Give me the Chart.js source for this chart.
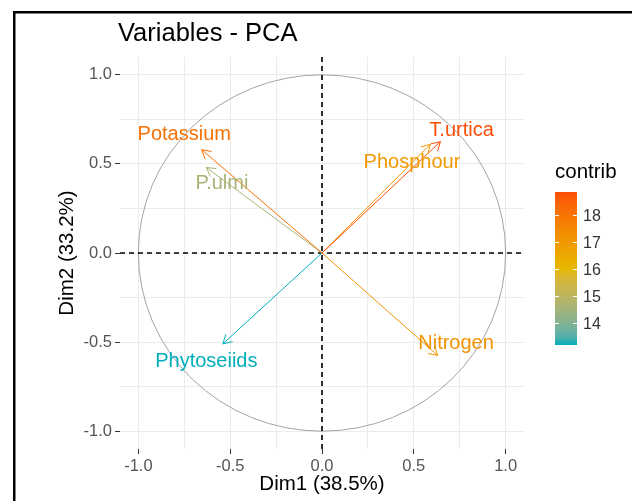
<!DOCTYPE html>
<html>
<head>
<meta charset="utf-8">
<script src="https://cdn.jsdelivr.net/npm/chart.js@4/dist/chart.umd.min.js"></script>
<style>
  body { margin: 0; background: #fff; }
  canvas { display: block; }
</style>
</head>
<body>
<canvas id="pca" width="632" height="501"></canvas>
<script>
// data
const variables = ['T.urtica', 'Phosphour', 'Potassium', 'P.ulmi', 'Phytoseiids', 'Nitrogen'];
const dim1 = [0.645, 0.59, -0.655, -0.63, -0.54, 0.63];
const dim2 = [0.625, 0.61, 0.58, 0.48, -0.51, -0.575];
const contrib = [18.85, 17.0, 18.1, 14.6, 13.19, 17.2];
// where the (repelled) labels sit, in Dim units
const labelX = [0.76, 0.49, -0.75, -0.545, -0.63, 0.73];
const labelY = [0.69, 0.51, 0.665, 0.39, -0.61, -0.51];

const axisTicks = [-1, -0.5, 0, 0.5, 1];
const gridVals = [-1, -0.75, -0.5, -0.25, 0, 0.25, 0.5, 0.75, 1];
const legendTicks = [14, 15, 16, 17, 18];
const gradientCols = ['#00AFBB', '#E7B800', '#FC4E07'];

const FONT = '"Liberation Sans", Arial, sans-serif';

// colour scale like ggplot (interpolated in Lab)
const hexToRgb = h => [1, 3, 5].map(i => parseInt(h.slice(i, i + 2), 16));
const toLin = c => { c /= 255; return c <= 0.04045 ? c / 12.92 : Math.pow((c + 0.055) / 1.055, 2.4); };
const fromLin = c => { c = c <= 0.0031308 ? 12.92 * c : 1.055 * Math.pow(c, 1 / 2.4) - 0.055; return Math.round(Math.max(0, Math.min(1, c)) * 255); };
const rgbToLab = rgb => {
    const [r, g, b] = rgb.map(toLin);
    let x = (0.4124 * r + 0.3576 * g + 0.1805 * b) / 0.95047;
    let y = (0.2126 * r + 0.7152 * g + 0.0722 * b);
    let z = (0.0193 * r + 0.1192 * g + 0.9505 * b) / 1.08883;
    const f = t => t > 0.008856 ? Math.cbrt(t) : 7.787 * t + 16 / 116;
    x = f(x); y = f(y); z = f(z);
    return [116 * y - 16, 500 * (x - y), 200 * (y - z)];
};
const labToRgb = ([L, a, b]) => {
    let y = (L + 16) / 116, x = a / 500 + y, z = y - b / 200;
    const fi = t => t * t * t > 0.008856 ? t * t * t : (t - 16 / 116) / 7.787;
    x = fi(x) * 0.95047; y = fi(y); z = fi(z) * 1.08883;
    const r = 3.2406 * x - 1.5372 * y - 0.4986 * z;
    const g = -0.9689 * x + 1.8758 * y + 0.0415 * z;
    const bb = 0.0557 * x - 0.2040 * y + 1.0570 * z;
    return [fromLin(r), fromLin(g), fromLin(bb)];
};
const labCols = gradientCols.map(c => rgbToLab(hexToRgb(c)));
const cMin = Math.min(...contrib), cMax = Math.max(...contrib);
const colorFor = v => {
    let t = (v - cMin) / (cMax - cMin);
    t = Math.max(0, Math.min(1, t)) * (labCols.length - 1);
    const i = Math.min(Math.floor(t), labCols.length - 2);
    const f = t - i;
    const lab = labCols[i].map((c, k) => c + (labCols[i + 1][k] - c) * f);
    const [r, g, b] = labToRgb(lab);
    return `rgb(${r},${g},${b})`;
};
const colors = contrib.map(colorFor);

const datasets = variables.map((v, i) => ({
    label: v,
    data: [{ x: 0, y: 0 }, { x: dim1[i], y: dim2[i] }],
    showLine: true,
    borderColor: colors[i],
    borderWidth: 1,
    pointRadius: 0
}));

const isMajor = v => axisTicks.some(t => Math.abs(t - v) < 1e-9);

const scaleBase = {
    type: 'linear',
    min: -1.1,
    max: 1.1,
    afterBuildTicks: axis => { axis.ticks = gridVals.map(v => ({ value: v })); },
    ticks: {
        autoSkip: false,
        color: '#555555',
        font: { family: FONT, size: 16.5 },
        padding: 3,
        callback: v => isMajor(v) ? v.toFixed(1) : ''
    },
    grid: {
        color: '#EBEBEB',
        lineWidth: 1,
        tickLength: 5,
        tickColor: ctx => isMajor(ctx.tick.value) ? '#333333' : 'rgba(0,0,0,0)'
    },
    border: { display: false }
};

// circle + dashed axes under the arrows
const backdrop = {
    id: 'backdrop',
    beforeDatasetsDraw(chart) {
        const { ctx, chartArea: a, scales: { x, y } } = chart;
        const cx = x.getPixelForValue(0), cy = y.getPixelForValue(0);
        ctx.save();
        ctx.strokeStyle = '#A3A3A3';
        ctx.lineWidth = 1;
        ctx.beginPath();
        ctx.ellipse(cx, cy, x.getPixelForValue(1) - cx, cy - y.getPixelForValue(1), 0, 0, Math.PI * 2);
        ctx.stroke();
        ctx.strokeStyle = '#000';
        ctx.lineWidth = 1.6;
        ctx.setLineDash([5, 4]);
        ctx.beginPath();
        ctx.moveTo(cx, a.top); ctx.lineTo(cx, a.bottom);
        ctx.moveTo(a.left, cy); ctx.lineTo(a.right, cy);
        ctx.stroke();
        ctx.restore();
    }
};

// arrow heads, labels, title, colour bar, frame
const decorations = {
    id: 'decorations',
    afterDatasetsDraw(chart) {
        const { ctx, scales: { x, y } } = chart;
        ctx.save();
        variables.forEach((v, i) => {
            const ox = x.getPixelForValue(0), oy = y.getPixelForValue(0);
            const px = x.getPixelForValue(dim1[i]), py = y.getPixelForValue(dim2[i]);
            const ang = Math.atan2(py - oy, px - ox);
            const len = 10, spread = Math.PI / 6;
            ctx.strokeStyle = colors[i];
            ctx.lineWidth = 1;
            ctx.beginPath();
            ctx.moveTo(px - len * Math.cos(ang - spread), py - len * Math.sin(ang - spread));
            ctx.lineTo(px, py);
            ctx.lineTo(px - len * Math.cos(ang + spread), py - len * Math.sin(ang + spread));
            ctx.stroke();

            ctx.fillStyle = colors[i];
            ctx.font = `20px ${FONT}`;
            ctx.textAlign = 'center';
            ctx.textBaseline = 'middle';
            ctx.fillText(v, x.getPixelForValue(labelX[i]), y.getPixelForValue(labelY[i]));
        });
        ctx.restore();
    },
    afterDraw(chart) {
        const { ctx } = chart;
        ctx.save();
        ctx.fillStyle = '#000';
        ctx.font = `25.5px ${FONT}`;
        ctx.textAlign = 'left';
        ctx.textBaseline = 'middle';
        ctx.fillText('Variables - PCA', 118, 34);

        // colour bar
        const bx = 555, bw = 22, top = 192, bot = 345;
        const vy = v => top + (cMax - v) / (cMax - cMin) * (bot - top);
        const grad = ctx.createLinearGradient(0, bot, 0, top);
        for (let k = 0; k <= 20; k++) {
            grad.addColorStop(k / 20, colorFor(cMin + (cMax - cMin) * k / 20));
        }
        ctx.fillStyle = grad;
        ctx.fillRect(bx, top, bw, bot - top);
        ctx.fillStyle = '#000';
        ctx.font = `20.5px ${FONT}`;
        ctx.fillText('contrib', 555, 172);
        ctx.font = `16px ${FONT}`;
        ctx.fillStyle = '#333';
        ctx.strokeStyle = '#fff';
        ctx.lineWidth = 1;
        legendTicks.forEach(t => {
            const ty = Math.round(vy(t)) + 0.5;
            ctx.beginPath();
            ctx.moveTo(bx, ty); ctx.lineTo(bx + 4, ty);
            ctx.moveTo(bx + bw - 4, ty); ctx.lineTo(bx + bw, ty);
            ctx.stroke();
            ctx.fillText(String(t), bx + bw + 6, ty + 1);
        });

        // frame of the screenshot
        ctx.fillStyle = '#000';
        ctx.fillRect(13, 11, 632 - 13, 2.5);
        ctx.fillRect(13, 11, 2.5, 501 - 11);
        ctx.restore();
    }
};

new Chart(document.getElementById('pca'), {
    type: 'scatter',
    data: { datasets },
    options: {
        responsive: false,
        animation: false,
        layout: { padding: { top: 57, right: 108, left: 0, bottom: 0 } },
        plugins: {
            legend: { display: false },
            title: { display: false },
            tooltip: { enabled: false }
        },
        scales: {
            x: {
                ...scaleBase,
                position: 'bottom',
                afterFit: axis => { axis.height = 52; },
                title: {
                    display: true,
                    text: 'Dim1 (38.5%)',
                    color: '#000',
                    font: { family: FONT, size: 20.5 },
                    padding: { top: 0, bottom: 4 }
                }
            },
            y: {
                ...scaleBase,
                position: 'left',
                afterFit: axis => { axis.width = 120; },
                title: {
                    display: true,
                    text: 'Dim2 (33.2%)',
                    color: '#000',
                    font: { family: FONT, size: 20.5 },
                    padding: { top: 55, bottom: 0 }
                }
            }
        }
    },
    plugins: [backdrop, decorations]
});
</script>
</body>
</html>
